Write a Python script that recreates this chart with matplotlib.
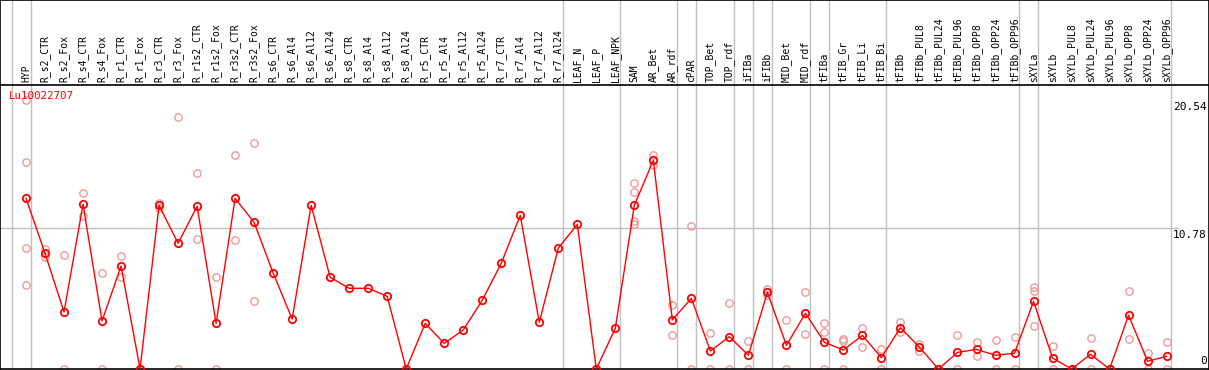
import matplotlib
matplotlib.use("Agg")
import matplotlib.pyplot as plt
import numpy as np

# categories along the x axis
categories = [
    "HYP", "R_s2_CTR", "R_s2_Fox", "R_s4_CTR", "R_s4_Fox", "R_r1_CTR", "R_r1_Fox",
    "R_r3_CTR", "R_r3_Fox", "R_r1s2_CTR", "R_r1s2_Fox", "R_r3s2_CTR", "R_r3s2_Fox",
    "R_s6_CTR", "R_s6_Al4", "R_s6_Al12", "R_s6_Al24", "R_s8_CTR", "R_s8_Al4",
    "R_s8_Al12", "R_s8_Al24", "R_r5_CTR", "R_r5_Al4", "R_r5_Al12", "R_r5_Al24",
    "R_r7_CTR", "R_r7_Al4", "R_r7_Al12", "R_r7_Al24", "LEAF_N", "LEAF_P", "LEAF_NPK",
    "SAM", "AR_Bet", "AR_rdf", "cPAR", "TOP_Bet", "TOP_rdf", "iFIBa", "iFIBb",
    "MID_Bet", "MID_rdf", "tFIBa", "tFIB_Gr", "tFIB_Li", "tFIB_Bi", "tFIBb",
    "tFIBb_PUL8", "tFIBb_PUL24", "tFIBb_PUL96", "tFIBb_OPP8", "tFIBb_OPP24",
    "tFIBb_OPP96", "sXYLa", "sXYLb", "sXYLb_PUL8", "sXYLb_PUL24", "sXYLb_PUL96",
    "sXYLb_OPP8", "sXYLb_OPP24", "sXYLb_OPP96",
]

# mean expression per sample (red line)
means = [
    13.05, 8.85, 4.36, 12.59, 3.67, 7.87, 0.0,
    12.51, 9.61, 12.44, 3.49, 13.05, 11.21,
    7.34, 3.82, 12.51, 7.01, 6.17, 6.17,
    5.56, 0.0, 3.49, 1.96, 2.98, 5.25,
    8.08, 11.75, 3.57, 9.23, 11.06, 0.0, 3.11,
    12.51, 15.95, 3.75, 5.40, 1.38, 2.47, 1.05, 5.86,
    1.81, 4.26, 2.04, 1.45, 2.57, 0.87, 3.16,
    1.66, 0.0, 1.27, 1.50, 1.05,
    1.20, 5.17, 0.84, 0.0, 1.12, 0.0,
    4.11, 0.59, 0.97,
]

# individual replicates (faint circles)
replicates = [
    [20.54, 15.8, 9.23, 6.4], [9.15, 8.54], [8.72, 0], [13.43, 11.70], [7.31, 0],
    [8.61, 7.06], [0, 0], [12.72, 12.3], [19.24, 0], [14.98, 9.91], [7.01, 0],
    [16.34, 9.84], [17.25, 5.2],
    [], [], [], [], [], [], [], [], [], [], [], [], [], [], [], [], [], [], [],
    [14.2, 13.5, 11.3, 11.1], [16.36, 15.6], [4.89, 2.57], [10.93, 0], [2.75, 0],
    [5.05, 0], [2.14, 0], [6.14, 5.66], [3.72, 0], [5.86, 2.65], [3.52, 2.81, 0],
    [2.29, 2.14, 0], [3.13, 1.71], [1.50, 0], [3.57, 2.81],
    [1.89, 1.40], [0, 0], [2.57, 0], [2.04, 1.02], [2.22, 0], [2.42, 0],
    [6.24, 5.94, 3.26], [1.73, 0], [0, 0], [2.37, 0], [0, 0],
    [5.94, 2.27], [1.20, 0], [2.04, 0],
]

# index of the last sample in each group (-1 = before the first)
group_ends = [-1, 0, 28, 31, 34, 35, 37, 38, 39, 41, 42, 45, 52, 53, 60]

y_ticks = [0, 10.78, 20.54]
title = "Lu10022707"

W, H = 1209, 370
fig = plt.figure(figsize=(W / 100, H / 100), dpi=100)

x = np.arange(len(categories))
xlim = (-26 / 19.01, (W - 26) / 19.01)

ax = fig.add_axes([0, 1 / H, 1, (369 - 85) / H])
axh = fig.add_axes([0, 1 - 85 / H, 1, 85 / H], sharex=ax)

for a in (ax, axh):
    a.set_xlim(*xlim)
    a.set_xticks([])
    a.set_yticks([])
    for s in a.spines.values():
        s.set_color("black")
        s.set_linewidth(1.2)
    for g in group_ends:
        a.axvline(g + 0.25, color="#c0c0c0", lw=1, zorder=0)

ax.spines["top"].set_visible(False)
axh.set_ylim(0, 1)
ax.set_ylim(0, (369 - 85) / 13.08)

ax.axhline(10.78, xmax=1178 / W, color="#c0c0c0", lw=1, zorder=0)

# replicates
rx, ry = [], []
for i, reps in enumerate(replicates):
    for v in reps:
        rx.append(i)
        ry.append(v)
ax.plot(rx, ry, linestyle="none", marker="o", ms=5.3, mfc="none",
        mec="#ee9a9a", mew=1.0, clip_on=False, zorder=2)

# mean line
ax.plot(x, means, color="red", lw=1, marker="o", ms=5.3, mfc="none",
        mec="red", mew=1.3, clip_on=False, zorder=3)

# y labels on the right
for v in y_ticks:
    va = "bottom" if v == 0 else "top"
    yy = v + 0.25 if v == 0 else v - 0.15
    ax.text(0.998, yy, f"{v:g}" if v == 0 else f"{v:.2f}", transform=ax.get_yaxis_transform(),
            ha="right", va=va, fontsize=8, family="DejaVu Sans Mono")

# header sample labels
for i, lab in enumerate(categories):
    axh.text(i, 3 / 85, lab, rotation=90, ha="center", va="bottom",
             fontsize=7, family="DejaVu Sans Mono")

fig.text(9 / W, 1 - 91 / H, title, color="red", ha="left", va="top",
         fontsize=7.8, family="DejaVu Sans Mono")

fig.savefig("out.png", dpi=100)
plt.close(fig)
